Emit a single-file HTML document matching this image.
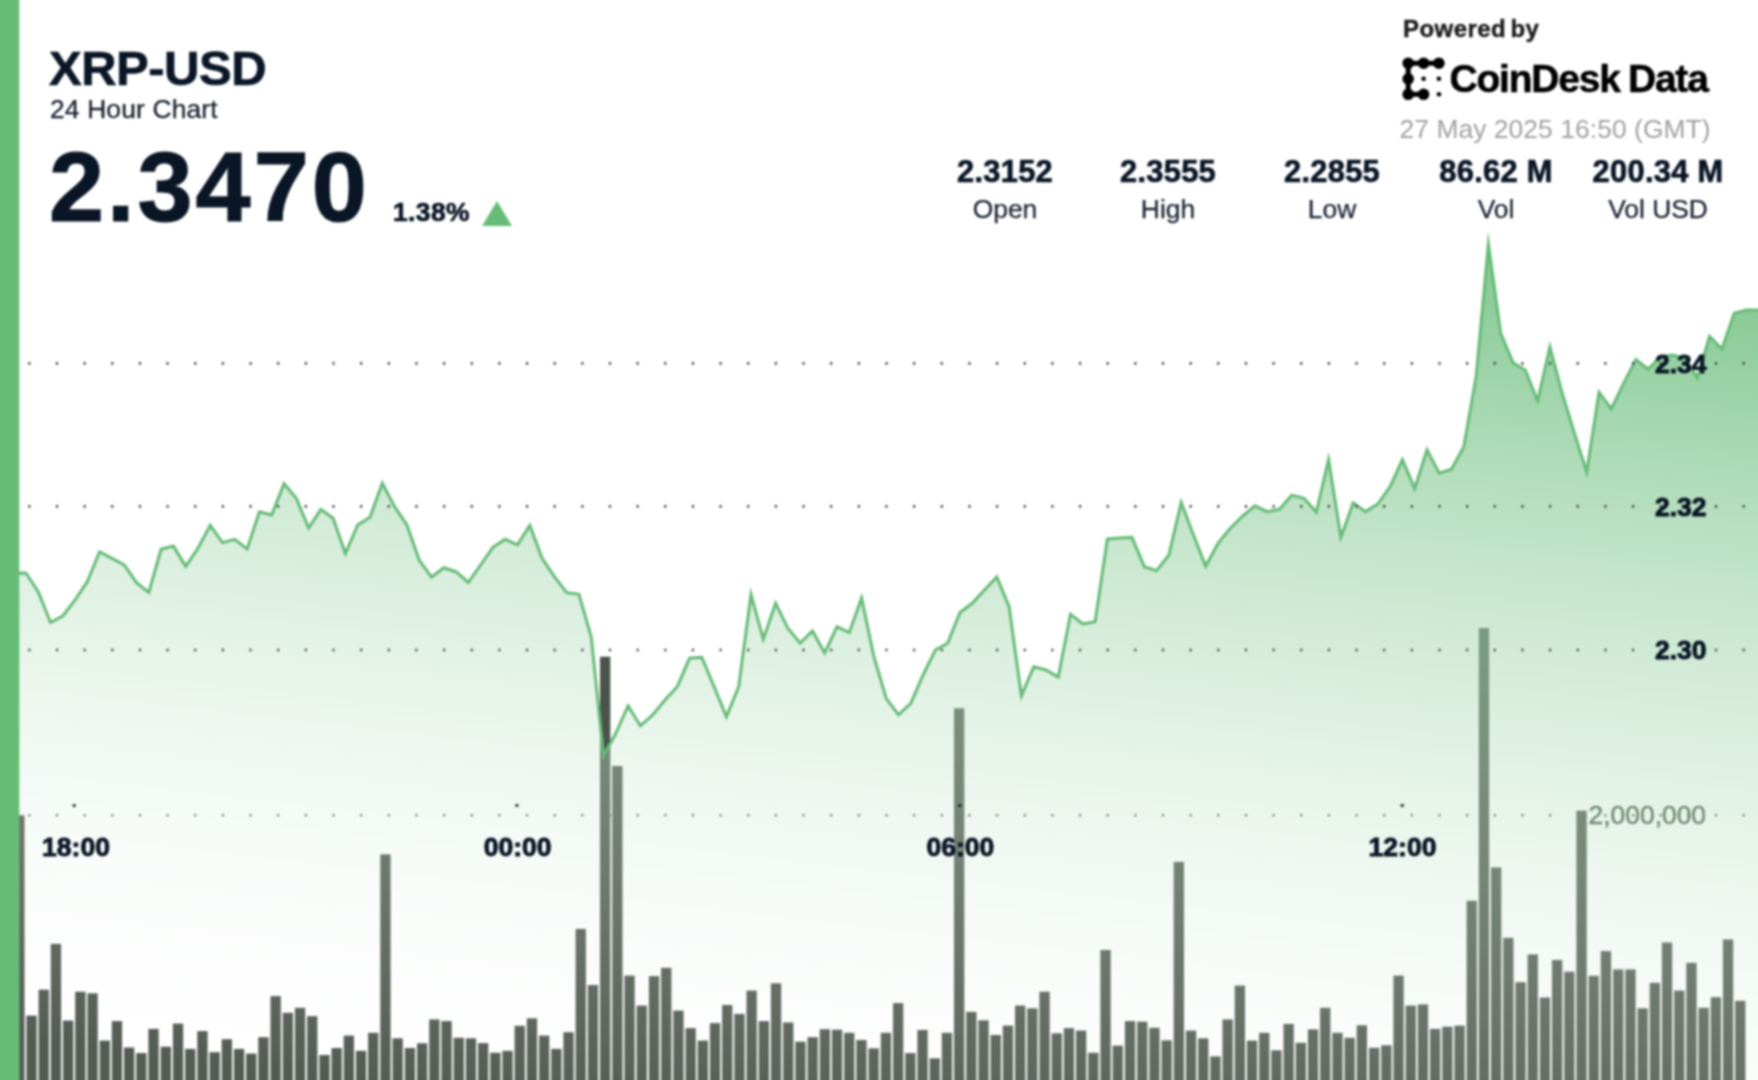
<!DOCTYPE html>
<html lang="en"><head><meta charset="utf-8"><title>XRP-USD 24 Hour Chart</title>
<style>
html,body{margin:0;padding:0;background:#fff;}
body{width:1758px;height:1080px;overflow:hidden;position:relative;font-family:"Liberation Sans",sans-serif;color:#0a1626;}
#chart{position:absolute;left:0;top:0;}
.abs{position:absolute;white-space:nowrap;line-height:1;}
#sym{left:49px;top:44px;font-size:49px;font-weight:bold;letter-spacing:-0.5px;-webkit-text-stroke:0.7px #0e1b2c;}
#sub{left:50px;top:96px;font-size:26.4px;color:#141e2c;letter-spacing:0.15px;-webkit-text-stroke:0.25px #141e2c;}
#price{left:49px;top:137px;font-size:99px;font-weight:bold;letter-spacing:3px;-webkit-text-stroke:1.2px #0e1b2c;}
#chg{left:393px;top:198.5px;font-size:26.4px;font-weight:bold;letter-spacing:0.4px;-webkit-text-stroke:0.7px #0a1626;}
#tri{left:482px;top:201px;width:0;height:0;border-left:15.5px solid transparent;border-right:15.5px solid transparent;border-bottom:25px solid #67bd78;}
.stat{width:200px;text-align:center;}
.stat b{display:block;font-size:30.8px;font-weight:bold;line-height:1;letter-spacing:0.3px;-webkit-text-stroke:0.7px #0a1626;}
.stat span{display:block;font-size:26.4px;margin-top:9px;color:#172232;line-height:1;-webkit-text-stroke:0.25px #172232;}
#pow{left:1403px;top:16.5px;font-size:24px;font-weight:bold;color:#1c1c1c;letter-spacing:0.45px;word-spacing:-2.8px;-webkit-text-stroke:0.4px #1c1c1c;}
#cd{left:1449.5px;top:59px;font-size:39px;font-weight:bold;color:#000;letter-spacing:-1.2px;word-spacing:-1.5px;-webkit-text-stroke:0.5px #000;}
#ts{left:1399.5px;top:116px;font-size:26.4px;color:#a0a0a0;letter-spacing:0.07px;}
#wrap{position:absolute;left:-20px;top:-20px;width:1798px;height:1120px;background:#fff;filter:blur(0.8px);}
#page{position:absolute;left:20px;top:20px;width:1758px;height:1080px;}
#chart{overflow:visible;}
</style></head><body><div id="wrap"><div id="page">
<svg id="chart" width="1758" height="1080" viewBox="0 0 1758 1080">
<defs><linearGradient id="g" gradientUnits="userSpaceOnUse" x1="1758" y1="235" x2="1643.4" y2="1227.8"><stop offset="0" stop-color="rgb(102,187,119)" stop-opacity="0.9"/><stop offset="1" stop-color="rgb(255,255,255)" stop-opacity="0.05"/></linearGradient></defs>
<g fill="#4a534a"><rect x="14.2" y="815.3" width="10.3" height="284.7"/><rect x="26.4" y="1015.6" width="10.3" height="84.4"/><rect x="38.6" y="989.7" width="10.3" height="110.3"/><rect x="50.8" y="943.9" width="10.3" height="156.1"/><rect x="63.0" y="1020.6" width="10.3" height="79.4"/><rect x="75.2" y="991.7" width="10.3" height="108.3"/><rect x="87.4" y="993.3" width="10.3" height="106.7"/><rect x="99.6" y="1040.6" width="10.3" height="59.4"/><rect x="111.8" y="1021.1" width="10.3" height="78.9"/><rect x="124.0" y="1047.5" width="10.3" height="52.5"/><rect x="136.2" y="1053.1" width="10.3" height="46.9"/><rect x="148.4" y="1028.9" width="10.3" height="71.1"/><rect x="160.7" y="1046.7" width="10.3" height="53.3"/><rect x="172.9" y="1023.6" width="10.3" height="76.4"/><rect x="185.1" y="1048.9" width="10.3" height="51.1"/><rect x="197.3" y="1031.1" width="10.3" height="68.9"/><rect x="209.5" y="1052.2" width="10.3" height="47.8"/><rect x="221.7" y="1039.2" width="10.3" height="60.8"/><rect x="233.9" y="1048.9" width="10.3" height="51.1"/><rect x="246.1" y="1053.6" width="10.3" height="46.4"/><rect x="258.3" y="1037.2" width="10.3" height="62.8"/><rect x="270.5" y="996.1" width="10.3" height="103.9"/><rect x="282.7" y="1012.8" width="10.3" height="87.2"/><rect x="294.9" y="1007.8" width="10.3" height="92.2"/><rect x="307.1" y="1016.1" width="10.3" height="83.9"/><rect x="319.3" y="1055.0" width="10.3" height="45.0"/><rect x="331.5" y="1048.0" width="10.3" height="52.0"/><rect x="343.7" y="1035.6" width="10.3" height="64.4"/><rect x="355.9" y="1050.8" width="10.3" height="49.2"/><rect x="368.1" y="1032.8" width="10.3" height="67.2"/><rect x="380.3" y="854.4" width="10.3" height="245.6"/><rect x="392.5" y="1038.3" width="10.3" height="61.7"/><rect x="404.8" y="1048.0" width="10.3" height="52.0"/><rect x="417.0" y="1043.3" width="10.3" height="56.7"/><rect x="429.2" y="1019.4" width="10.3" height="80.6"/><rect x="441.4" y="1021.1" width="10.3" height="78.9"/><rect x="453.6" y="1037.8" width="10.3" height="62.2"/><rect x="465.8" y="1038.3" width="10.3" height="61.7"/><rect x="478.0" y="1043.1" width="10.3" height="56.9"/><rect x="490.2" y="1052.8" width="10.3" height="47.2"/><rect x="502.4" y="1050.8" width="10.3" height="49.2"/><rect x="514.6" y="1025.8" width="10.3" height="74.2"/><rect x="526.8" y="1018.3" width="10.3" height="81.7"/><rect x="539.0" y="1035.6" width="10.3" height="64.4"/><rect x="551.2" y="1048.9" width="10.3" height="51.1"/><rect x="563.4" y="1032.2" width="10.3" height="67.8"/><rect x="575.6" y="928.9" width="10.3" height="171.1"/><rect x="587.8" y="985.0" width="10.3" height="115.0"/><rect x="600.0" y="656.7" width="10.3" height="443.3"/><rect x="612.2" y="766.0" width="10.3" height="334.0"/><rect x="624.4" y="975.6" width="10.3" height="124.4"/><rect x="636.6" y="1005.6" width="10.3" height="94.4"/><rect x="648.9" y="976.1" width="10.3" height="123.9"/><rect x="661.1" y="967.8" width="10.3" height="132.2"/><rect x="673.3" y="1010.6" width="10.3" height="89.4"/><rect x="685.5" y="1028.1" width="10.3" height="71.9"/><rect x="697.7" y="1040.6" width="10.3" height="59.4"/><rect x="709.9" y="1023.1" width="10.3" height="76.9"/><rect x="722.1" y="1005.0" width="10.3" height="95.0"/><rect x="734.3" y="1013.9" width="10.3" height="86.1"/><rect x="746.5" y="990.6" width="10.3" height="109.4"/><rect x="758.7" y="1021.1" width="10.3" height="78.9"/><rect x="770.9" y="983.3" width="10.3" height="116.7"/><rect x="783.1" y="1022.5" width="10.3" height="77.5"/><rect x="795.3" y="1041.7" width="10.3" height="58.3"/><rect x="807.5" y="1037.2" width="10.3" height="62.8"/><rect x="819.7" y="1029.2" width="10.3" height="70.8"/><rect x="831.9" y="1029.7" width="10.3" height="70.3"/><rect x="844.1" y="1032.8" width="10.3" height="67.2"/><rect x="856.3" y="1040.0" width="10.3" height="60.0"/><rect x="868.5" y="1048.3" width="10.3" height="51.7"/><rect x="880.8" y="1032.8" width="10.3" height="67.2"/><rect x="893.0" y="1003.1" width="10.3" height="96.9"/><rect x="905.2" y="1053.1" width="10.3" height="46.9"/><rect x="917.4" y="1030.0" width="10.3" height="70.0"/><rect x="929.6" y="1058.3" width="10.3" height="41.7"/><rect x="941.8" y="1032.8" width="10.3" height="67.2"/><rect x="954.0" y="708.3" width="10.3" height="391.7"/><rect x="966.2" y="1011.9" width="10.3" height="88.1"/><rect x="978.4" y="1020.3" width="10.3" height="79.7"/><rect x="990.6" y="1035.0" width="10.3" height="65.0"/><rect x="1002.8" y="1025.6" width="10.3" height="74.4"/><rect x="1015.0" y="1005.6" width="10.3" height="94.4"/><rect x="1027.2" y="1008.3" width="10.3" height="91.7"/><rect x="1039.4" y="991.7" width="10.3" height="108.3"/><rect x="1051.6" y="1033.3" width="10.3" height="66.7"/><rect x="1063.8" y="1028.1" width="10.3" height="71.9"/><rect x="1076.0" y="1030.6" width="10.3" height="69.4"/><rect x="1088.2" y="1052.8" width="10.3" height="47.2"/><rect x="1100.4" y="950.0" width="10.3" height="150.0"/><rect x="1112.6" y="1045.6" width="10.3" height="54.4"/><rect x="1124.9" y="1021.1" width="10.3" height="78.9"/><rect x="1137.1" y="1021.7" width="10.3" height="78.3"/><rect x="1149.3" y="1027.8" width="10.3" height="72.2"/><rect x="1161.5" y="1040.3" width="10.3" height="59.7"/><rect x="1173.7" y="861.9" width="10.3" height="238.1"/><rect x="1185.9" y="1030.6" width="10.3" height="69.4"/><rect x="1198.1" y="1038.3" width="10.3" height="61.7"/><rect x="1210.3" y="1056.4" width="10.3" height="43.6"/><rect x="1222.5" y="1019.4" width="10.3" height="80.6"/><rect x="1234.7" y="985.6" width="10.3" height="114.4"/><rect x="1246.9" y="1040.6" width="10.3" height="59.4"/><rect x="1259.1" y="1032.8" width="10.3" height="67.2"/><rect x="1271.3" y="1050.3" width="10.3" height="49.7"/><rect x="1283.5" y="1023.9" width="10.3" height="76.1"/><rect x="1295.7" y="1042.8" width="10.3" height="57.2"/><rect x="1307.9" y="1029.4" width="10.3" height="70.6"/><rect x="1320.1" y="1007.8" width="10.3" height="92.2"/><rect x="1332.3" y="1032.8" width="10.3" height="67.2"/><rect x="1344.5" y="1037.8" width="10.3" height="62.2"/><rect x="1356.7" y="1025.3" width="10.3" height="74.7"/><rect x="1369.0" y="1047.8" width="10.3" height="52.2"/><rect x="1381.2" y="1045.3" width="10.3" height="54.7"/><rect x="1393.4" y="975.6" width="10.3" height="124.4"/><rect x="1405.6" y="1005.6" width="10.3" height="94.4"/><rect x="1417.8" y="1004.4" width="10.3" height="95.6"/><rect x="1430.0" y="1028.9" width="10.3" height="71.1"/><rect x="1442.2" y="1026.7" width="10.3" height="73.3"/><rect x="1454.4" y="1025.6" width="10.3" height="74.4"/><rect x="1466.6" y="900.8" width="10.3" height="199.2"/><rect x="1478.8" y="628.0" width="10.3" height="472.0"/><rect x="1491.0" y="867.5" width="10.3" height="232.5"/><rect x="1503.2" y="937.8" width="10.3" height="162.2"/><rect x="1515.4" y="982.2" width="10.3" height="117.8"/><rect x="1527.6" y="954.4" width="10.3" height="145.6"/><rect x="1539.8" y="997.5" width="10.3" height="102.5"/><rect x="1552.0" y="960.0" width="10.3" height="140.0"/><rect x="1564.2" y="971.7" width="10.3" height="128.3"/><rect x="1576.4" y="810.6" width="10.3" height="289.4"/><rect x="1588.6" y="975.8" width="10.3" height="124.2"/><rect x="1600.8" y="951.1" width="10.3" height="148.9"/><rect x="1613.1" y="969.4" width="10.3" height="130.6"/><rect x="1625.3" y="969.4" width="10.3" height="130.6"/><rect x="1637.5" y="1008.3" width="10.3" height="91.7"/><rect x="1649.7" y="982.8" width="10.3" height="117.2"/><rect x="1661.9" y="942.5" width="10.3" height="157.5"/><rect x="1674.1" y="990.6" width="10.3" height="109.4"/><rect x="1686.3" y="962.8" width="10.3" height="137.2"/><rect x="1698.5" y="1007.8" width="10.3" height="92.2"/><rect x="1710.7" y="997.2" width="10.3" height="102.8"/><rect x="1722.9" y="939.4" width="10.3" height="160.6"/><rect x="1735.1" y="1000.8" width="10.3" height="99.2"/></g>
<path d="M13.6,573.3 L25.9,573.0 L38.2,591.7 L50.5,622.5 L62.8,616.0 L75.1,600.0 L87.3,581.7 L99.6,551.8 L111.9,558.3 L124.2,565.0 L136.5,582.7 L148.8,592.5 L161.1,549.3 L173.4,546.1 L185.7,566.4 L198.0,548.3 L210.2,525.3 L222.5,542.6 L234.8,539.3 L247.1,549.1 L259.4,511.8 L271.7,514.9 L284.0,483.6 L296.3,498.3 L308.6,528.0 L320.9,509.4 L333.1,518.3 L345.4,553.5 L357.7,525.0 L370.0,517.3 L382.3,483.2 L394.6,506.7 L406.9,525.0 L419.2,560.0 L431.5,577.2 L443.8,567.7 L456.0,571.7 L468.3,582.5 L480.6,565.0 L492.9,547.3 L505.2,539.3 L517.5,544.9 L529.8,525.4 L542.1,558.3 L554.4,576.7 L566.7,592.7 L578.9,594.3 L591.2,636.7 L603.5,756.0 L615.8,733.3 L628.1,706.0 L640.4,725.8 L652.7,715.0 L665.0,700.0 L677.3,686.7 L689.6,658.3 L701.8,657.4 L714.1,686.7 L726.4,716.8 L738.7,686.7 L751.0,594.6 L763.3,639.2 L775.6,603.2 L787.9,628.3 L800.2,643.1 L812.5,630.9 L824.7,652.9 L837.0,626.8 L849.3,632.5 L861.6,598.1 L873.9,656.7 L886.2,698.3 L898.5,714.8 L910.8,703.3 L923.1,675.0 L935.4,650.0 L947.6,643.3 L959.9,612.7 L972.2,603.3 L984.5,590.0 L996.8,577.0 L1009.1,606.7 L1021.4,695.8 L1033.7,666.8 L1046.0,670.0 L1058.3,677.1 L1070.5,614.3 L1082.8,624.0 L1095.1,621.7 L1107.4,539.0 L1119.7,538.0 L1132.0,537.4 L1144.3,566.7 L1156.6,570.6 L1168.9,555.0 L1181.2,502.4 L1193.5,535.0 L1205.7,566.3 L1218.0,543.3 L1230.3,528.3 L1242.6,516.0 L1254.9,505.8 L1267.2,511.7 L1279.5,509.3 L1291.8,495.1 L1304.1,498.3 L1316.3,512.3 L1328.6,459.6 L1340.9,537.3 L1353.2,502.9 L1365.5,511.6 L1377.8,504.0 L1390.1,486.7 L1402.4,459.8 L1414.7,488.7 L1427.0,449.8 L1439.2,473.2 L1451.5,469.3 L1463.8,446.7 L1476.1,376.7 L1488.4,244.4 L1500.7,333.3 L1513.0,362.7 L1525.3,370.0 L1537.6,401.0 L1549.9,347.0 L1562.2,393.3 L1574.4,433.3 L1586.7,472.2 L1599.0,392.2 L1611.3,409.0 L1623.6,383.3 L1635.9,359.5 L1648.2,369.2 L1660.5,356.7 L1672.8,355.0 L1685.0,358.3 L1697.3,377.9 L1709.6,336.3 L1721.9,349.0 L1734.2,313.3 L1746.5,310.0 L1758.8,310.0 L1780,310.0 L1780,1100 L13.6,1100 Z" fill="url(#g)"/>
<path d="M13.6,573.3 L25.9,573.0 L38.2,591.7 L50.5,622.5 L62.8,616.0 L75.1,600.0 L87.3,581.7 L99.6,551.8 L111.9,558.3 L124.2,565.0 L136.5,582.7 L148.8,592.5 L161.1,549.3 L173.4,546.1 L185.7,566.4 L198.0,548.3 L210.2,525.3 L222.5,542.6 L234.8,539.3 L247.1,549.1 L259.4,511.8 L271.7,514.9 L284.0,483.6 L296.3,498.3 L308.6,528.0 L320.9,509.4 L333.1,518.3 L345.4,553.5 L357.7,525.0 L370.0,517.3 L382.3,483.2 L394.6,506.7 L406.9,525.0 L419.2,560.0 L431.5,577.2 L443.8,567.7 L456.0,571.7 L468.3,582.5 L480.6,565.0 L492.9,547.3 L505.2,539.3 L517.5,544.9 L529.8,525.4 L542.1,558.3 L554.4,576.7 L566.7,592.7 L578.9,594.3 L591.2,636.7 L603.5,756.0 L615.8,733.3 L628.1,706.0 L640.4,725.8 L652.7,715.0 L665.0,700.0 L677.3,686.7 L689.6,658.3 L701.8,657.4 L714.1,686.7 L726.4,716.8 L738.7,686.7 L751.0,594.6 L763.3,639.2 L775.6,603.2 L787.9,628.3 L800.2,643.1 L812.5,630.9 L824.7,652.9 L837.0,626.8 L849.3,632.5 L861.6,598.1 L873.9,656.7 L886.2,698.3 L898.5,714.8 L910.8,703.3 L923.1,675.0 L935.4,650.0 L947.6,643.3 L959.9,612.7 L972.2,603.3 L984.5,590.0 L996.8,577.0 L1009.1,606.7 L1021.4,695.8 L1033.7,666.8 L1046.0,670.0 L1058.3,677.1 L1070.5,614.3 L1082.8,624.0 L1095.1,621.7 L1107.4,539.0 L1119.7,538.0 L1132.0,537.4 L1144.3,566.7 L1156.6,570.6 L1168.9,555.0 L1181.2,502.4 L1193.5,535.0 L1205.7,566.3 L1218.0,543.3 L1230.3,528.3 L1242.6,516.0 L1254.9,505.8 L1267.2,511.7 L1279.5,509.3 L1291.8,495.1 L1304.1,498.3 L1316.3,512.3 L1328.6,459.6 L1340.9,537.3 L1353.2,502.9 L1365.5,511.6 L1377.8,504.0 L1390.1,486.7 L1402.4,459.8 L1414.7,488.7 L1427.0,449.8 L1439.2,473.2 L1451.5,469.3 L1463.8,446.7 L1476.1,376.7 L1488.4,244.4 L1500.7,333.3 L1513.0,362.7 L1525.3,370.0 L1537.6,401.0 L1549.9,347.0 L1562.2,393.3 L1574.4,433.3 L1586.7,472.2 L1599.0,392.2 L1611.3,409.0 L1623.6,383.3 L1635.9,359.5 L1648.2,369.2 L1660.5,356.7 L1672.8,355.0 L1685.0,358.3 L1697.3,377.9 L1709.6,336.3 L1721.9,349.0 L1734.2,313.3 L1746.5,310.0 L1758.8,310.0 L1780,310.0" fill="none" stroke="#66bb77" stroke-width="3" stroke-miterlimit="12" stroke-linejoin="miter" stroke-linecap="butt"/>
<g font-family="Liberation Sans, sans-serif" font-size="26.4" fill="#6f8a73" stroke="#6f8a73" stroke-width="0.4"><text x="1706" y="824" text-anchor="end">2,000,000</text></g>
<g stroke="#444" stroke-width="2.7" stroke-dasharray="2.1 25.55"><line x1="28.3" x2="1780" y1="363.3" y2="363.3"/><line x1="28.3" x2="1780" y1="506.3" y2="506.3"/><line x1="28.3" x2="1780" y1="650" y2="650"/></g><g stroke="#7d857d" stroke-width="2.4" stroke-dasharray="2.1 25.55"><line x1="28.3" x2="1780" y1="815.3" y2="815.3"/></g>
<g fill="#0e1b2c"><rect x="72.6" y="804.3" width="3.2" height="2.4"/><rect x="515.3" y="804.3" width="3.2" height="2.4"/><rect x="958.1" y="804.3" width="3.2" height="2.4"/><rect x="1400.6" y="804.3" width="3.2" height="2.4"/></g>
<g font-family="Liberation Sans, sans-serif" font-size="26.5" font-weight="bold" fill="#0a1626" stroke="#0a1626" stroke-width="0.9"><text x="76" y="856.3" text-anchor="middle">18:00</text><text x="517.6" y="856.3" text-anchor="middle">00:00</text><text x="960.3" y="856.3" text-anchor="middle">06:00</text><text x="1402.5" y="856.3" text-anchor="middle">12:00</text><text x="1706.5" y="372.7" text-anchor="end">2.34</text><text x="1706.5" y="515.7" text-anchor="end">2.32</text><text x="1706.5" y="659.4" text-anchor="end">2.30</text></g>
<rect x="-20" y="-20" width="39.3" height="1120" fill="#67bd78"/>
<g fill="#000" stroke="#000">
<path d="M1438.9,63.2 H1408.2 V94.3 H1423.6" fill="none" stroke-width="5" stroke-linejoin="round" stroke-linecap="round"/>
<g stroke="none"><circle cx="1408.2" cy="63.2" r="5.8"/><circle cx="1423.6" cy="63.2" r="5.8"/><circle cx="1438.9" cy="63.2" r="5.8"/><circle cx="1408.2" cy="78.8" r="5.8"/><circle cx="1408.2" cy="94.3" r="5.8"/><circle cx="1423.6" cy="94.3" r="5.8"/>
<circle cx="1423.6" cy="78.8" r="2.3"/><circle cx="1438.9" cy="78.8" r="2.3"/><circle cx="1438.9" cy="94.3" r="2.3"/></g></g>
</svg>
<div class="abs" id="sym">XRP-USD</div>
<div class="abs" id="sub">24 Hour Chart</div>
<div class="abs" id="price">2.3470</div>
<div class="abs" id="chg">1.38%</div>
<div class="abs" id="tri"></div>
<div class="abs stat" style="left:905px;top:156.5px"><b>2.3152</b><span>Open</span></div>
<div class="abs stat" style="left:1068px;top:156.5px"><b>2.3555</b><span>High</span></div>
<div class="abs stat" style="left:1232px;top:156.5px"><b>2.2855</b><span>Low</span></div>
<div class="abs stat" style="left:1396px;top:156.5px"><b>86.62 M</b><span>Vol</span></div>
<div class="abs stat" style="left:1558px;top:156.5px"><b>200.34 M</b><span>Vol USD</span></div>
<div class="abs" id="pow">Powered by</div>
<div class="abs" id="cd">CoinDesk Data</div>
<div class="abs" id="ts">27 May 2025 16:50 (GMT)</div>
</div></div></body></html>
